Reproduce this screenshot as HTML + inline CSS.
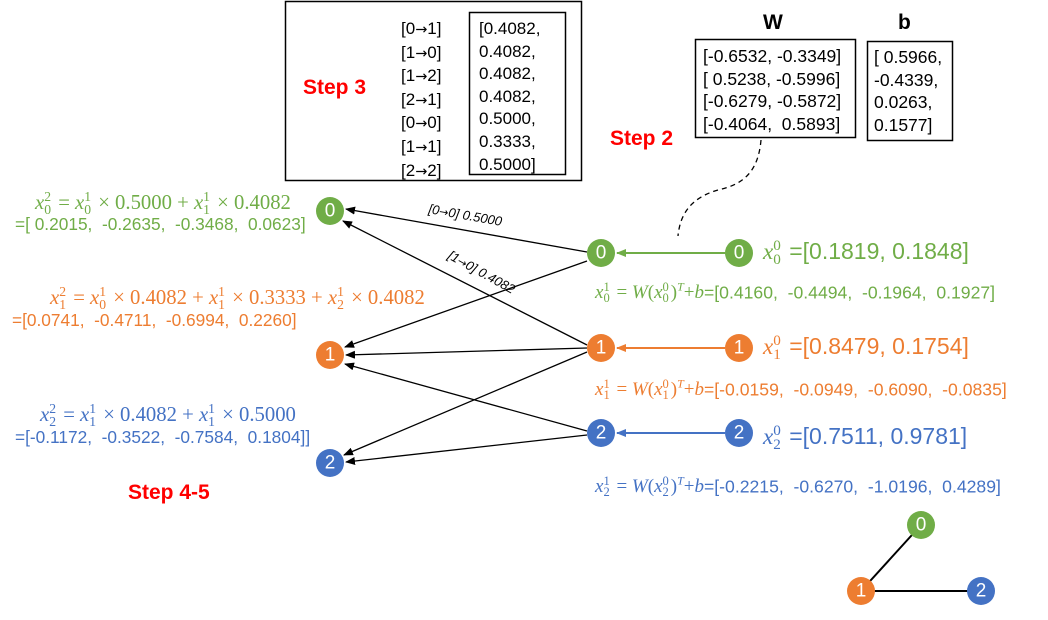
<!DOCTYPE html>
<html><head><meta charset="utf-8"><style>
body{margin:0;width:1048px;height:620px;background:#fff;position:relative;overflow:hidden;font-family:"Liberation Sans",sans-serif}
.t{position:absolute;white-space:nowrap;line-height:1}
.m{font-family:"Liberation Serif",serif}
.m i{font-style:italic}
.ss{display:inline-block;vertical-align:middle;line-height:0.9;font-size:0.66em;text-align:left;margin-right:2px;position:relative;top:-0.05em}
.ss span{display:block}
.g{color:#70ad47}.o{color:#ed7d31}.b{color:#4472c4}
.red{color:#ff0000;font-weight:bold;font-size:21px}
.ar{font-family:"DejaVu Sans",sans-serif;font-size:0.85em}
svg{position:absolute;left:0;top:0}
.n{font-family:"Liberation Sans",sans-serif;font-size:19px;fill:#fff;text-anchor:middle;dominant-baseline:central}
</style></head><body>
<svg width="1048" height="620">
<defs><marker id="a" markerWidth="10" markerHeight="8" refX="9" refY="4" orient="auto" markerUnits="userSpaceOnUse"><path d="M0,0L10,4L0,8z" fill="#000"/></marker>
<marker id="ag" markerWidth="10" markerHeight="8" refX="9" refY="4" orient="auto" markerUnits="userSpaceOnUse"><path d="M0,0L10,4L0,8z" fill="#70ad47"/></marker>
<marker id="ao" markerWidth="10" markerHeight="8" refX="9" refY="4" orient="auto" markerUnits="userSpaceOnUse"><path d="M0,0L10,4L0,8z" fill="#ed7d31"/></marker>
<marker id="ab" markerWidth="10" markerHeight="8" refX="9" refY="4" orient="auto" markerUnits="userSpaceOnUse"><path d="M0,0L10,4L0,8z" fill="#4472c4"/></marker></defs>
<rect x="285.5" y="1.5" width="296" height="179" fill="none" stroke="#000" stroke-width="1.5"/>
<rect x="469.5" y="12.5" width="96" height="162" fill="none" stroke="#000" stroke-width="1.5"/>
<rect x="695.5" y="39.5" width="160" height="98" fill="none" stroke="#000" stroke-width="1.5"/>
<rect x="867.5" y="41.5" width="85" height="99" fill="none" stroke="#000" stroke-width="1.5"/>
<path d="M761,140 C758,175 740,185 718,190 C690,198 680,215 678,236" fill="none" stroke="#000" stroke-width="1.3" stroke-dasharray="5,4"/>
<g stroke="#000" stroke-width="1.3" fill="none">
<line x1="587" y1="252" x2="346" y2="209" marker-end="url(#a)"/>
<line x1="587" y1="345" x2="343" y2="221" marker-end="url(#a)"/>
<line x1="587" y1="261" x2="345" y2="347" marker-end="url(#a)"/>
<line x1="587" y1="348" x2="346" y2="355" marker-end="url(#a)"/>
<line x1="587" y1="431" x2="345" y2="364" marker-end="url(#a)"/>
<line x1="587" y1="352" x2="344" y2="455" marker-end="url(#a)"/>
<line x1="587" y1="435" x2="346" y2="462" marker-end="url(#a)"/>
</g>
<line x1="725" y1="253" x2="617" y2="253" stroke="#70ad47" stroke-width="2" marker-end="url(#ag)"/>
<line x1="725" y1="348" x2="617" y2="348" stroke="#ed7d31" stroke-width="2" marker-end="url(#ao)"/>
<line x1="725" y1="433" x2="617" y2="433" stroke="#4472c4" stroke-width="2" marker-end="url(#ab)"/>
<line x1="921" y1="525" x2="861" y2="591" stroke="#000" stroke-width="2"/>
<line x1="861" y1="591" x2="981" y2="591" stroke="#000" stroke-width="2"/>
<text x="428" y="213" font-size="13" font-style="italic" transform="rotate(10 428 213)" font-family="Liberation Sans">[0<tspan font-family="DejaVu Sans" font-size="11">→</tspan>0] 0.5000</text>
<text x="447" y="258" font-size="13" font-style="italic" transform="rotate(29 447 258)" font-family="Liberation Sans">[1<tspan font-family="DejaVu Sans" font-size="11">→</tspan>0] 0.4082</text>
<g>
<circle cx="330" cy="211" r="14" fill="#70ad47"/><text class="n" x="330" y="211">0</text>
<circle cx="330" cy="355" r="14" fill="#ed7d31"/><text class="n" x="330" y="355">1</text>
<circle cx="330" cy="463" r="14" fill="#4472c4"/><text class="n" x="330" y="463">2</text>
<circle cx="601" cy="253" r="14" fill="#70ad47"/><text class="n" x="601" y="253">0</text>
<circle cx="601" cy="348" r="14" fill="#ed7d31"/><text class="n" x="601" y="348">1</text>
<circle cx="601" cy="433" r="14" fill="#4472c4"/><text class="n" x="601" y="433">2</text>
<circle cx="739" cy="253" r="14" fill="#70ad47"/><text class="n" x="739" y="253">0</text>
<circle cx="739" cy="348" r="14" fill="#ed7d31"/><text class="n" x="739" y="348">1</text>
<circle cx="739" cy="433" r="14" fill="#4472c4"/><text class="n" x="739" y="433">2</text>
<circle cx="921" cy="525" r="14" fill="#70ad47"/><text class="n" x="921" y="525">0</text>
<circle cx="861" cy="591" r="14" fill="#ed7d31"/><text class="n" x="861" y="591">1</text>
<circle cx="981" cy="591" r="14" fill="#4472c4"/><text class="n" x="981" y="591">2</text>
</g>
</svg>

<div class="t red" style="left:303px;top:77px">Step 3</div>
<div class="t red" style="left:610px;top:128px">Step 2</div>
<div class="t red" style="left:128px;top:482px">Step 4-5</div>
<div class="t" style="left:763px;top:12px;font-weight:bold;font-size:21px">W</div>
<div class="t" style="left:898px;top:12px;font-weight:bold;font-size:21px">b</div>

<div class="t" style="left:401px;top:18px;font-size:17px;line-height:22.6px">[0<span class="ar">→</span>1]<br>[1<span class="ar">→</span>0]<br>[1<span class="ar">→</span>2]<br>[2<span class="ar">→</span>1]<br>[0<span class="ar">→</span>0]<br>[1<span class="ar">→</span>1]<br>[2<span class="ar">→</span>2]</div>
<div class="t" style="left:479px;top:18px;font-size:17px;line-height:22.6px">[0.4082,<br>0.4082,<br>0.4082,<br>0.4082,<br>0.5000,<br>0.3333,<br>0.5000]</div>
<div class="t" style="left:703px;top:45px;font-size:17.5px;line-height:22.5px">[-0.6532, -0.3349]<br>[ 0.5238, -0.5996]<br>[-0.6279, -0.5872]<br>[-0.4064,&nbsp; 0.5893]</div>
<div class="t" style="left:874px;top:46px;font-size:17.5px;line-height:22.5px">[ 0.5966,<br>-0.4339,<br>0.0263,<br>0.1577]</div>

<div class="t m g" style="left:35px;top:192px;font-size:20.7px"><i>x</i><span class="ss"><span>2</span><span>0</span></span> = <i>x</i><span class="ss"><span>1</span><span>0</span></span> × 0.5000 + <i>x</i><span class="ss"><span>1</span><span>1</span></span> × 0.4082</div>
<div class="t g" style="left:15px;top:216px;font-size:17.3px">=[ 0.2015,&nbsp; -0.2635,&nbsp; -0.3468,&nbsp; 0.0623]</div>
<div class="t m o" style="left:50px;top:287px;font-size:20.7px"><i>x</i><span class="ss"><span>2</span><span>1</span></span> = <i>x</i><span class="ss"><span>1</span><span>0</span></span> × 0.4082 + <i>x</i><span class="ss"><span>1</span><span>1</span></span> × 0.3333 + <i>x</i><span class="ss"><span>1</span><span>2</span></span> × 0.4082</div>
<div class="t o" style="left:12px;top:312px;font-size:17.3px">=[0.0741,&nbsp; -0.4711,&nbsp; -0.6994,&nbsp; 0.2260]</div>
<div class="t m b" style="left:40px;top:404px;font-size:20.7px"><i>x</i><span class="ss"><span>2</span><span>2</span></span> = <i>x</i><span class="ss"><span>1</span><span>1</span></span> × 0.4082 + <i>x</i><span class="ss"><span>1</span><span>1</span></span> × 0.5000</div>
<div class="t b" style="left:15px;top:429px;font-size:17.3px">=[-0.1172,&nbsp; -0.3522,&nbsp; -0.7584,&nbsp; 0.1804]]</div>

<div class="t g" style="left:763px;top:240px;font-size:23px"><span class="m"><i>x</i><span class="ss"><span>0</span><span>0</span></span></span> =[0.1819, 0.1848]</div>
<div class="t o" style="left:763px;top:335px;font-size:23px"><span class="m"><i>x</i><span class="ss"><span>0</span><span>1</span></span></span> =[0.8479, 0.1754]</div>
<div class="t b" style="left:763px;top:425px;font-size:23px"><span class="m"><i>x</i><span class="ss"><span>0</span><span>2</span></span></span> =[0.7511, 0.9781]</div>

<div class="t g" style="left:595px;top:281px;font-size:17.6px"><span class="m" style="font-size:19px"><i>x</i><span class="ss"><span>1</span><span>0</span></span> = <i>W</i>(<i>x</i><span class="ss"><span>0</span><span>0</span></span>)<sup style="font-size:12px"><i>T</i></sup>+<i>b</i></span>=[0.4160,&nbsp; -0.4494,&nbsp; -0.1964,&nbsp; 0.1927]</div>
<div class="t o" style="left:595px;top:378px;font-size:17.6px"><span class="m" style="font-size:19px"><i>x</i><span class="ss"><span>1</span><span>1</span></span> = <i>W</i>(<i>x</i><span class="ss"><span>0</span><span>1</span></span>)<sup style="font-size:12px"><i>T</i></sup>+<i>b</i></span>=[-0.0159,&nbsp; -0.0949,&nbsp; -0.6090,&nbsp; -0.0835]</div>
<div class="t b" style="left:595px;top:475px;font-size:17.6px"><span class="m" style="font-size:19px"><i>x</i><span class="ss"><span>1</span><span>2</span></span> = <i>W</i>(<i>x</i><span class="ss"><span>0</span><span>2</span></span>)<sup style="font-size:12px"><i>T</i></sup>+<i>b</i></span>=[-0.2215,&nbsp; -0.6270,&nbsp; -1.0196,&nbsp; 0.4289]</div>
</body></html>
